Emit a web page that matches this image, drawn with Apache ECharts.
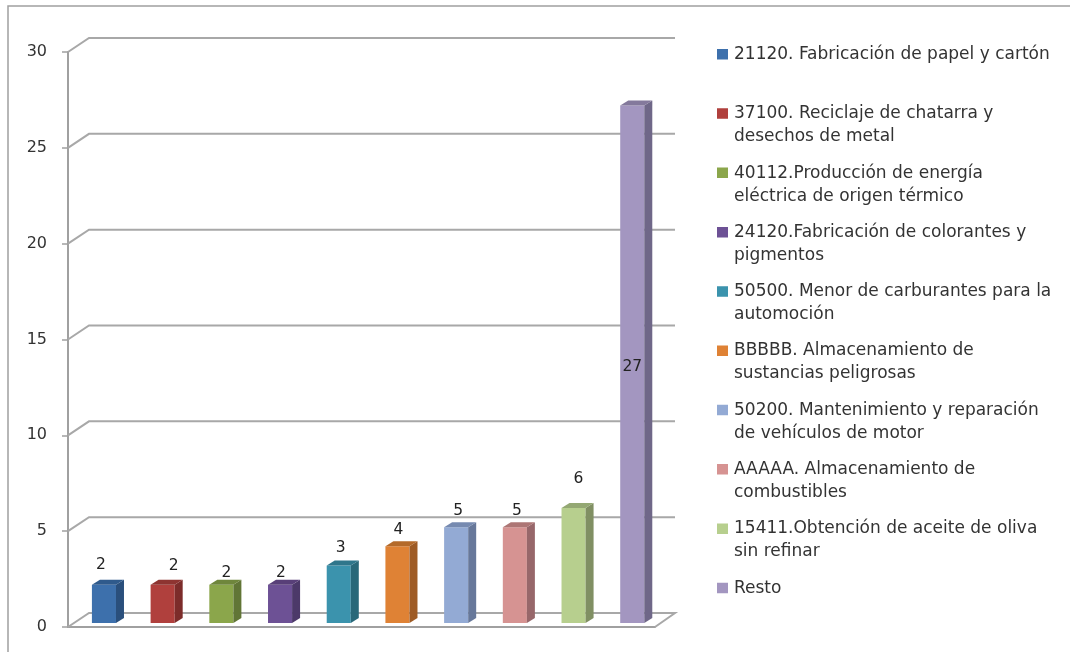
<!DOCTYPE html>
<html><head><meta charset="utf-8">
<style>html,body{margin:0;padding:0;background:#fff}#c{width:1070px;height:652px}</style>
<script src="https://cdn.jsdelivr.net/npm/echarts@6/dist/echarts.min.js"></script>
</head><body><div id="c"></div>
<script>
const categories = [
 "21120. Fabricación de papel y cartón",
 "37100. Reciclaje de chatarra y\ndesechos de metal",
 "40112.Producción de energía\neléctrica de origen térmico",
 "24120.Fabricación de colorantes y\npigmentos",
 "50500. Menor de carburantes para la\nautomoción",
 "BBBBB. Almacenamiento de\nsustancias peligrosas",
 "50200. Mantenimiento y reparación\nde vehículos de motor",
 "AAAAA. Almacenamiento de\ncombustibles",
 "15411.Obtención de aceite de oliva\nsin refinar",
 "Resto"
];
const values = [2,2,2,2,3,4,5,5,6,27];
const tickValues = [0,5,10,15,20,25,30];
const colors = ["#3d70ac","#b0403d","#8ba64b","#6d5195","#3b93ad","#df8235","#93aad4","#d69392","#b7cf8e","#a396c0"];
const sideColors = ["#2a4f7c","#7c2c2a","#617536","#4c3969","#296879","#9e5b25","#67789a","#97676a","#808f63","#6f6788"];
const topColors = ["#2f5a8c","#8e3431","#6f863c","#583f78","#2f768b","#b46a2a","#768ab0","#ad7675","#94a873","#84799c"];
const labelShiftX = [-3,11,5,1,2,1,2,2,5,0];
const labelShiftY = [-2,-1,6,6,0,2,2,2,-11,0];

const FONT = '"DejaVu Sans"';
const DX = 21, DY = 14;           // wall depth
const BAR_DX = 6.6, BAR_DY = 4;   // bars stand mid-way in the depth
const SIDE_DX = 8, SIDE_DY = 5;   // bar side depth
const grey = "#a8a8a8";

function wallItem(params, api) {
  const v = api.value(0);
  const start = api.coord([0, v]);
  const sz = api.size([1, 0])[0];
  const left = start[0] - sz / 2;
  const right = left + sz * 10;
  const y = start[1];
  const pts = v === 0
    ? [[left, y], [left + DX, y - DY], [right + DX - 1, y - DY], [right, y]]
    : [[left, y], [left + DX, y - DY], [right + DX - 1, y - DY]];
  return { type: 'polyline', shape: { points: pts }, style: { stroke: grey, lineWidth: 2, fill: null }, z2: 1 };
}

function barRenderer(i) {
  return function (params, api) {
    const p = api.coord([i, api.value(1)]);
    const base = api.coord([i, 0]);
    const w = api.size([1, 0])[0] * 0.41;
    const x0 = p[0] + BAR_DX - w / 2, x1 = x0 + w;
    const yt = p[1] - BAR_DY, yb = base[1] - BAR_DY;
    return {
      type: 'group',
      children: [
        { type: 'rect', shape: { x: x0, y: yt, width: w, height: yb - yt },
          style: { fill: colors[i] } },
        { type: 'polygon', shape: { points: [[x1, yt], [x1 + SIDE_DX, yt - SIDE_DY], [x1 + SIDE_DX, yb - SIDE_DY], [x1, yb]] },
          style: { fill: sideColors[i] } },
        { type: 'polygon', shape: { points: [[x0, yt], [x0 + SIDE_DX, yt - SIDE_DY], [x1 + SIDE_DX, yt - SIDE_DY], [x1, yt]] },
          style: { fill: topColors[i] } },
        { type: 'text', z2: 5,
          style: {
            text: String(api.value(1)),
            x: (x0 + x1) / 2 + labelShiftX[i],
            y: api.value(1) > 20 ? (p[1] + base[1]) / 2 - 1 : yt - 18 + labelShiftY[i],
            fill: '#222', font: '15.5px ' + FONT, align: 'center', verticalAlign: 'middle'
          } }
      ]
    };
  };
}

const series = [{
  type: 'custom', name: 'paredes', silent: true, z: 1,
  data: tickValues.map(v => [v]),
  encode: { y: 0 },
  renderItem: wallItem
}];
categories.forEach((name, i) => {
  series.push({
    type: 'custom', name, z: 3,
    itemStyle: { color: colors[i] },
    data: [[i, values[i]]],
    encode: { x: 0, y: 1 },
    renderItem: barRenderer(i)
  });
});

const chart = echarts.init(document.getElementById('c'), null, { renderer: 'canvas' });
chart.setOption({
  animation: false,
  backgroundColor: '#fff',
  grid: { left: 68, top: 52, width: 587, height: 575 },
  xAxis: { type: 'category', data: categories, boundaryGap: true,
    axisLine: { show: true, lineStyle: { color: '#a0a0a0', width: 2 } },
    axisTick: { show: false }, axisLabel: { show: false }, splitLine: { show: false } },
  yAxis: { type: 'value', min: 0, max: 30, interval: 5,
    axisLine: { show: true, lineStyle: { color: '#a0a0a0', width: 2 } },
    axisTick: { show: true, length: 6, lineStyle: { color: '#a0a0a0', width: 1.5 } },
    axisLabel: { margin: 21, color: '#333', fontSize: 16, fontFamily: 'DejaVu Sans' },
    splitLine: { show: false } },
  legend: {
    left: 717, top: 43, orient: 'vertical', align: 'left', padding: 0,
    itemGap: 13.3, itemWidth: 12, itemHeight: 46,
    icon: 'path://M0 6H11V16.5H0Z M0 0L0 0Z M12 46L12 46Z',
    selectedMode: false,
    data: categories,
    formatter: n => n.indexOf('\n') >= 0 ? n : n + '\n ',
    textStyle: { color: '#333', fontSize: 17, lineHeight: 23, fontFamily: 'DejaVu Sans' }
  },
  graphic: [{ type: 'rect', silent: true, z: -1,
    shape: { x: 8, y: 6, width: 1120, height: 700 },
    style: { fill: null, stroke: '#a0a0a0', lineWidth: 1.5 } }],
  series
});
</script></body></html>
